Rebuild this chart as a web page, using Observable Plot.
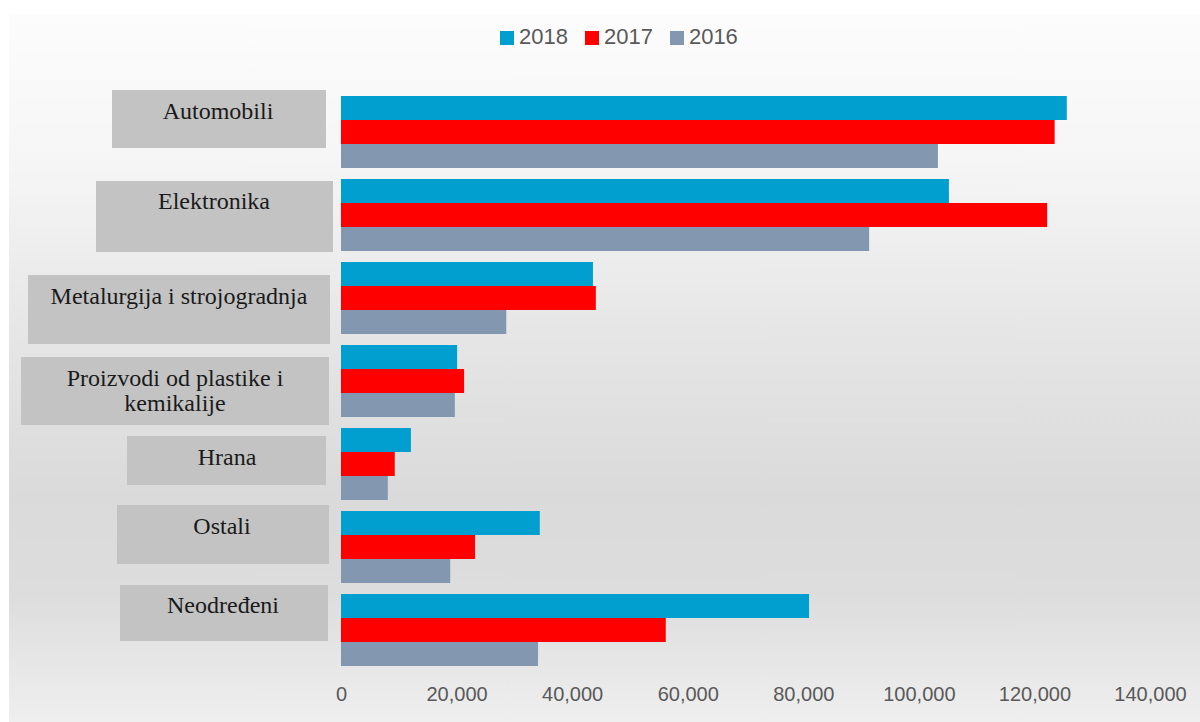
<!DOCTYPE html>
<html><head><meta charset="utf-8">
<script src="https://cdn.jsdelivr.net/npm/d3@7"></script>
<script src="https://cdn.jsdelivr.net/npm/@observablehq/plot@0.6"></script>
<style>
body{margin:0;background:#fff;}
#wrap{position:relative;width:1200px;height:722px;overflow:hidden;background:#fff;}
#panel{position:absolute;left:9px;top:14px;right:0;bottom:0;
  background:linear-gradient(#fcfcfc 0%, #f6f6f6 20%, #e6e6e6 45%, #dadada 68%, #dddddd 82%, #efefef 100%);}
#legend{position:absolute;top:0;left:500px;height:60px;display:flex;align-items:center;
  font-family:"Liberation Sans",Arial,sans-serif;font-size:22px;color:#595959;}
#legend .item{display:flex;align-items:center;margin-right:17px;}
#legend .sw{width:14px;height:14px;margin-right:5px;margin-top:1px;}
#legend{padding-top:14px;box-sizing:border-box;height:60px;}
#chart{position:absolute;top:60px;left:0;}
</style>
</head><body>
<div id="wrap">
  <div id="panel"></div>
  <div id="legend"></div>
  <div id="chart"></div>
</div>
<script>
const categories = ["Automobili","Elektronika","Metalurgija i strojogradnja","Proizvodi od plastike i kemikalije","Hrana","Ostali","Neodređeni"];
const years = ["2018","2017","2016"];
const v2018 = [125600,105200,43600,20100,12100,34400,81000];
const v2017 = [123500,122200,44100,21300,9300,23200,56200];
const v2016 = [103300,91400,28600,19700,8100,18900,34100];
const xTicks = [0,20000,40000,60000,80000,100000,120000,140000];
const colors = ["#009fd0","#ff0000","#8497b0"];

// label lines (text only)
const labelLines = [["Automobili"],["Elektronika"],["Metalurgija i strojogradnja"],["Proizvodi od plastike i","kemikalije"],["Hrana"],["Ostali"],["Neodređeni"]];

// decoration layout for grey label boxes (px; vertical offsets relative to each facet band top)
const boxLayout = [
  {x0:112,x1:326,dy:-5,h:58,cx:218,base:24},
  {x0:96,x1:333,dy:3,h:71,cx:214,base:31},
  {x0:28,x1:330,dy:14,h:69,cx:179,base:43},
  {x0:21,x1:329,dy:13,h:68,cx:175,base:42},
  {x0:127,x1:326,dy:9,h:49,cx:227,base:38},
  {x0:117,x1:329,dy:-5,h:59,cx:222,base:24},
  {x0:120,x1:328,dy:-8,h:56,cx:223,base:20}
];

const series = {"2018":v2018,"2017":v2017,"2016":v2016};
const rows = [];
categories.forEach((c,i)=>years.forEach(y=>rows.push({category:c,year:y,value:series[y][i]})));

// legend
const leg = d3.select("#legend");
years.forEach((y,i)=>{
  const it = leg.append("div").attr("class","item");
  it.append("div").attr("class","sw").style("background",colors[i]);
  it.append("span").text(y);
});

const chart = Plot.plot({
  width:1200, height:662,
  marginLeft:341, marginRight:50, marginTop:30, marginBottom:51,
  style:{background:"transparent", fontFamily:"'Liberation Sans',Arial,sans-serif", fontSize:"20px", color:"#595959"},
  x:{domain:[0,140000], ticks:xTicks, tickFormat:d3.format(","), tickSize:0, tickPadding:20, label:null},
  fy:{domain:categories, paddingInner:0.12, paddingOuter:0.06, axis:null, label:null},
  y:{domain:years, padding:0, axis:null},
  color:{domain:years, range:colors},
  marks:[
    Plot.barX(rows,{x:"value", y:"year", fy:"category", fill:"year"})
  ]
});
document.getElementById("chart").appendChild(chart);

// label boxes + category labels positioned with the fy scale
const fy = chart.scale("fy");
const svg = d3.select(chart);
const g = svg.insert("g",":first-child");
categories.forEach((c,i)=>{
  const top = fy.apply(c);
  const L = boxLayout[i];
  g.append("rect").attr("x",L.x0).attr("y",top+L.dy).attr("width",L.x1-L.x0).attr("height",L.h)
    .attr("fill","#c3c3c3");
  const t = g.append("text").attr("text-anchor","middle")
    .attr("font-family","'Liberation Serif','Times New Roman',serif").attr("font-size",24).attr("fill","#1a1a1a");
  labelLines[i].forEach((ln,j)=>{
    t.append("tspan").attr("x",L.cx).attr("y",top+L.base+j*25).text(ln);
  });
});
</script>
</body></html>
